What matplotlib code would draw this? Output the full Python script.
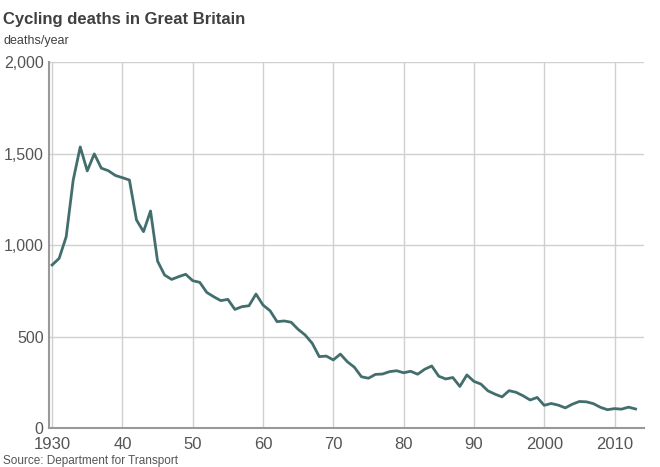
import numpy as np
import matplotlib
matplotlib.use("Agg")
import matplotlib.pyplot as plt
from matplotlib.ticker import FuncFormatter

# cycling deaths per year, Great Britain
years = list(range(1930, 2014))
deaths = [
    891, 927, 1045, 1355, 1536, 1405, 1498, 1420, 1406, 1380,   # 1930s
    1368, 1355, 1137, 1073, 1186, 912, 836, 812, 827, 840,      # 1940s
    805, 796, 741, 717, 696, 703, 648, 663, 668, 732,           # 1950s
    672, 641, 581, 585, 578, 539, 508, 463, 390, 393,           # 1960s
    372, 404, 362, 332, 280, 272, 293, 295, 308, 313,           # 1970s
    302, 310, 294, 321, 339, 283, 268, 276, 227, 290,           # 1980s
    255, 240, 203, 185, 170, 204, 195, 176, 153, 167,           # 1990s
    124, 134, 125, 110, 130, 145, 143, 133, 113, 100,           # 2000s
    106, 103, 114, 104,                                         # 2010s
]
x_ticks = [1930, 1940, 1950, 1960, 1970, 1980, 1990, 2000, 2010]
x_labels = ["1930", "40", "50", "60", "70", "80", "90", "2000", "2010"]
y_ticks = [0, 500, 1000, 1500, 2000]

plt.rcParams["font.family"] = ["Liberation Sans", "DejaVu Sans"]

fig = plt.figure(figsize=(6.6, 4.67), dpi=100)
ax = fig.add_axes([0.0747, 0.0835, 0.9011, 0.7837])

ax.plot(years, deaths, color="#426f6d", lw=2.0, solid_joinstyle="round", zorder=3)

ax.set_xlim(1929.6, 2014.2)
ax.set_ylim(0, 2000)
ax.set_xticks(x_ticks)
ax.set_xticklabels(x_labels)
ax.set_yticks(y_ticks)
ax.yaxis.set_major_formatter(FuncFormatter(lambda v, p: f"{int(v):,}"))

ax.grid(True, color="#d0d0d0", lw=1.0, zorder=0)
ax.set_axisbelow(True)
for side in ["top", "right"]:
    ax.spines[side].set_visible(False)
for side in ["left", "bottom"]:
    ax.spines[side].set_color("#999999")
    ax.spines[side].set_linewidth(1.5)
ax.tick_params(axis="both", length=0, colors="#555555")
ax.tick_params(axis="x", labelsize=12, pad=6.5)
ax.tick_params(axis="y", labelsize=11.5, pad=4)

fig.text(0.005, 0.948, "Cycling deaths in Great Britain", fontsize=12,
         fontweight="bold", color="#404040", ha="left", va="baseline")
fig.text(0.005, 0.905, "deaths/year", fontsize=9, color="#404040",
         ha="left", va="baseline")
fig.text(0.004, 0.006, "Source: Department for Transport", fontsize=8.5,
         color="#555555", ha="left", va="baseline")

fig.savefig("out.png", dpi=100)
